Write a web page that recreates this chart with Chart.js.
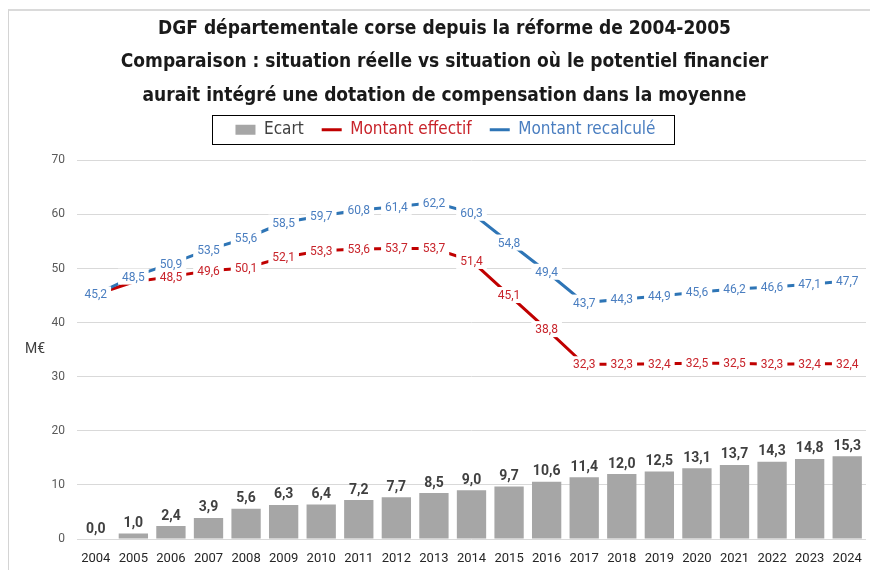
<!DOCTYPE html>
<html>
<head>
<meta charset="utf-8">
<script src="https://cdn.jsdelivr.net/npm/chart.js@4.4.1/dist/chart.umd.min.js"></script>
<style>
  html, body { margin: 0; background: #fff; }
  #frame { position: absolute; left: 8px; top: 9px; width: 862px; height: 561px;
           border-top: 2px solid #dadada; border-left: 1px solid #d4d4d4; }
  canvas { display: block; }
</style>
</head>
<body>
<div id="frame"><canvas id="chart" width="861" height="559"></canvas></div>
<script>
/* ── DATA ── */
const years = ['2004','2005','2006','2007','2008','2009','2010','2011','2012','2013','2014',
               '2015','2016','2017','2018','2019','2020','2021','2022','2023','2024'];
const ecart = [0.0, 1.0, 2.4, 3.9, 5.6, 6.3, 6.4, 7.2, 7.7, 8.5, 9.0,
               9.7, 10.6, 11.4, 12.0, 12.5, 13.1, 13.7, 14.3, 14.8, 15.3];
const montantEffectif = [45.2, 47.5, 48.5, 49.6, 50.1, 52.1, 53.3, 53.6, 53.7, 53.7, 51.4,
                         45.1, 38.8, 32.3, 32.3, 32.4, 32.5, 32.5, 32.3, 32.4, 32.4];
const montantRecalcule = [45.2, 48.5, 50.9, 53.5, 55.6, 58.5, 59.7, 60.8, 61.4, 62.2, 60.3,
                          54.8, 49.4, 43.7, 44.3, 44.9, 45.6, 46.2, 46.6, 47.1, 47.7];
const titleLines = [
  'DGF départementale corse depuis la réforme de 2004-2005',
  'Comparaison : situation réelle vs situation où le potentiel financier',
  'aurait intégré une dotation de compensation dans la moyenne'
];
const yTicks = [0, 10, 20, 30, 40, 50, 60, 70];

const NARROW = '"Liberation Sans Narrow", "DejaVu Sans Condensed", sans-serif';
const fmt = v => v.toFixed(1).replace('.', ',');

/* ── value labels (white boxes over the lines, bold above the bars) ── */
const valueLabels = {
  id: 'valueLabels',
  afterDatasetsDraw(chart) {
    const { ctx } = chart;
    ctx.save();
    ctx.textAlign = 'center';
    // bars
    const barMeta = chart.getDatasetMeta(0);
    ctx.font = 'bold 14px Roboto, sans-serif';
    ctx.fillStyle = '#404040';
    ctx.textBaseline = 'bottom';
    barMeta.data.forEach((el, i) => {
      ctx.fillText(fmt(ecart[i]), el.x, el.y - 3);
    });
    // lines: red first, blue on top; red label dropped where it sits under the blue one
    ctx.font = '12px Roboto, sans-serif';
    ctx.textBaseline = 'middle';
    [[1, '#C8242B'], [2, '#4A7EC0']].forEach(([idx, color]) => {
      const meta = chart.getDatasetMeta(idx);
      const vals = chart.data.datasets[idx].data;
      meta.data.forEach((el, i) => {
        if (idx === 1 && Math.abs(montantRecalcule[i] - vals[i]) < 1.5) return;
        const t = fmt(vals[i]);
        const w = ctx.measureText(t).width + 8;
        ctx.fillStyle = '#fff';
        ctx.fillRect(el.x - w / 2, el.y - 8, w, 16);
        ctx.fillStyle = color;
        ctx.fillText(t, el.x, el.y + 1);
      });
    });
    ctx.restore();
  }
};

/* ── title/legend nudged, M€ caption, legend frame ── */
const extras = {
  id: 'extras',
  afterLayout(chart) {
    const lg = chart.legend, tb = chart.titleBlock;
    lg.top -= 12; lg.bottom -= 12;
    lg.left += 8; lg.right += 8;
    tb.left += 7; tb.right += 7;
  },
  afterDraw(chart) {
    const { ctx } = chart;
    const y = chart.scales.y;
    ctx.save();
    ctx.font = '14px Roboto, sans-serif';
    ctx.fillStyle = '#404040';
    ctx.textAlign = 'center';
    ctx.textBaseline = 'middle';
    ctx.fillText('M€', 26, y.getPixelForValue(35));
    const boxes = chart.legend.legendHitBoxes;
    const l = Math.min(...boxes.map(b => b.left)) - 23;
    const r = Math.max(...boxes.map(b => b.left + b.width)) + 19;
    const cy = boxes[0].top + boxes[0].height / 2;
    ctx.strokeStyle = '#000';
    ctx.lineWidth = 1;
    ctx.strokeRect(Math.round(l) + 0.5, Math.round(cy - 14.5) + 0.5, Math.round(r - l), 29);
    ctx.restore();
  }
};

new Chart(document.getElementById('chart'), {
  type: 'bar',
  data: {
    labels: years,
    datasets: [
      { type: 'bar', label: 'Ecart', data: ecart, backgroundColor: '#A6A6A6',
        categoryPercentage: 0.78, barPercentage: 1.0, order: 3 },
      { type: 'line', label: 'Montant effectif', data: montantEffectif, borderColor: '#C00000',
        backgroundColor: '#C00000', borderWidth: 3, pointRadius: 0, tension: 0, order: 2 },
      { type: 'line', label: 'Montant recalculé', data: montantRecalcule, borderColor: '#2E75B6',
        backgroundColor: '#2E75B6', borderWidth: 3, pointRadius: 0, tension: 0, order: 1 }
    ]
  },
  options: {
    responsive: false,
    animation: false,
    layout: { padding: { left: 0, right: 4, top: 0, bottom: 0 } },
    plugins: {
      title: {
        display: true, text: titleLines, color: '#1a1a1a',
        font: { family: NARROW, size: 19, weight: 'bold', lineHeight: 1.76 },
        padding: { top: 1, bottom: 3 }
      },
      legend: {
        position: 'top',
        labels: {
          font: { family: NARROW, size: 17 },
          usePointStyle: true, pointStyleWidth: 20, boxHeight: 10, padding: 18,
          generateLabels: chart => chart.data.datasets.map((ds, i) => ({
            text: ds.label,
            fillStyle: ds.backgroundColor,
            strokeStyle: i === 0 ? ds.backgroundColor : ds.borderColor,
            lineWidth: i === 0 ? 0 : 3,
            pointStyle: i === 0 ? 'rect' : 'line',
            fontColor: ['#404040', '#C8242B', '#4A7EC0'][i],
            datasetIndex: i, hidden: false
          }))
        }
      },
      tooltip: { enabled: false }
    },
    scales: {
      x: {
        grid: { display: false },
        border: { display: false },
        ticks: { color: '#262626', font: { family: 'Roboto', size: 13 }, padding: 4, maxRotation: 0 },
        afterFit: s => { s.height = 31; }
      },
      y: {
        min: 0, max: 70,
        afterBuildTicks: s => { s.ticks = yTicks.map(v => ({ value: v })); },
        grid: { color: '#D9D9D9', lineWidth: 1, drawTicks: false },
        border: { display: false },
        ticks: { color: '#595959', font: { family: 'Roboto', size: 12 }, padding: 12 },
        afterFit: s => { s.width = 68; }
      }
    }
  },
  plugins: [valueLabels, extras]
});
</script>
</body>
</html>
